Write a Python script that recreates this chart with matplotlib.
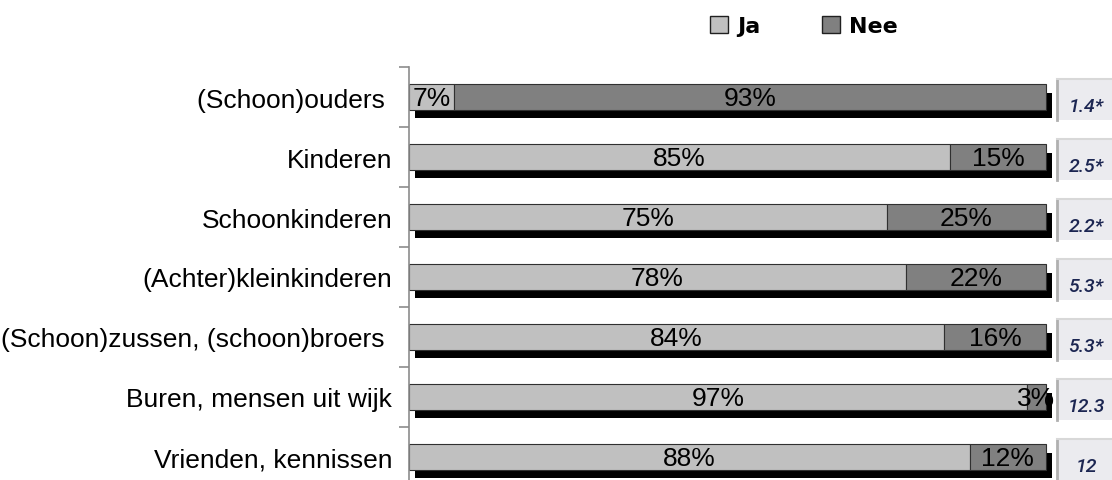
import matplotlib
matplotlib.use("Agg")
import matplotlib.pyplot as plt
from matplotlib.patches import Rectangle, Patch
import matplotlib.patheffects as pe
import numpy as np

categories = ["(Schoon)ouders ", "Kinderen", "Schoonkinderen", "(Achter)kleinkinderen",
              "(Schoon)zussen, (schoon)broers ", "Buren, mensen uit wijk", "Vrienden, kennissen"]
ja = [7, 85, 75, 78, 84, 97, 88]
nee = [93, 15, 25, 22, 16, 3, 12]
side_values = ["1.4*", "2.5*", "2.2*", "5.3*", "5.3*", "12.3", "12"]
series_names = ["Ja", "Nee"]
colors = ["#c0c0c0", "#808080"]

W, H = 1112, 481
fig = plt.figure(figsize=(W / 100, H / 100), dpi=100)
# axes: left 409px, right 1046px, top 68px, bottom 488px
ax = fig.add_axes([409 / W, (H - 488) / H, 637 / W, 420 / H])
ax.set_xlim(0, 100)
ax.set_ylim(len(categories) - 0.5, -0.5)

y = np.arange(len(categories))
shadow = [pe.SimplePatchShadow(offset=(4.5, -6.0), shadow_rgbFace="black", alpha=1.0), pe.Normal()]
bar_h = 0.42
b1 = ax.barh(y, ja, height=bar_h, color=colors[0], edgecolor="#303030", linewidth=0.8,
             path_effects=shadow, zorder=2, clip_on=False)
b2 = ax.barh(y, nee, left=ja, height=bar_h, color=colors[1], edgecolor="#303030", linewidth=0.8,
             path_effects=shadow, zorder=3, clip_on=False)

lab_font = dict(family=["Liberation Sans", "DejaVu Sans"], fontsize=19)
for i in range(len(categories)):
    ax.text(ja[i] / 2, y[i] + 0.02, f"{ja[i]}%", ha="center", va="center", color="black",
            zorder=5, **lab_font)
    ax.text(ja[i] + nee[i] / 2, y[i] + 0.02, f"{nee[i]}%", ha="center", va="center",
            color="black", zorder=5, **lab_font)

# axis styling
for s in ["top", "right", "bottom"]:
    ax.spines[s].set_visible(False)
ax.spines["left"].set_color("#8c8c8c")
ax.spines["left"].set_linewidth(1.2)
ax.set_xticks([])
ax.set_yticks(y)
ax.set_yticklabels(categories, **lab_font)
ax.tick_params(axis="y", which="major", length=0, pad=12)
ax.set_yticks(np.arange(-0.5, len(categories) + 0.5, 1), minor=True)
ax.tick_params(axis="y", which="minor", length=7.5, width=1.2, color="#8c8c8c")

# legend
handles = [Patch(facecolor=c, edgecolor="#202020", linewidth=1.0, label=n)
           for c, n in zip(colors, series_names)]
fig.legend(handles=handles, loc="center", bbox_to_anchor=(804 / W, 1 - 27 / H), ncol=2,
           frameon=False, handlelength=0.8, handleheight=0.8, handletextpad=0.4,
           columnspacing=2.8, prop=dict(family="DejaVu Sans", weight="bold", size=16))

# side boxes with values
fig.canvas.draw()
for i, v in enumerate(side_values):
    _, yc = ax.transData.transform((0, y[i]))
    x0, x1 = 1057, 1116
    y_top = yc + 18
    y_bot = yc - 23
    fig.patches.append(Rectangle((x0, y_bot), x1 - x0, y_top - y_bot, transform=None,
                                 facecolor="#ebebef", edgecolor="none", zorder=1))
    fig.lines.append(plt.Line2D([x0, x0], [y_bot, y_top], transform=None, color="#b0b0b0",
                                linewidth=2.0))
    fig.lines.append(plt.Line2D([x0, x1], [y_top, y_top], transform=None, color="#d8d8d8",
                                linewidth=1.5))
    fig.text(1086 / W, (yc - 9) / H, v, ha="center", va="center", color="#1c2652",
             style="italic", fontsize=14, fontweight="medium",
             family=["Roboto", "Liberation Sans", "DejaVu Sans"])

fig.savefig("out.png", dpi=100)
